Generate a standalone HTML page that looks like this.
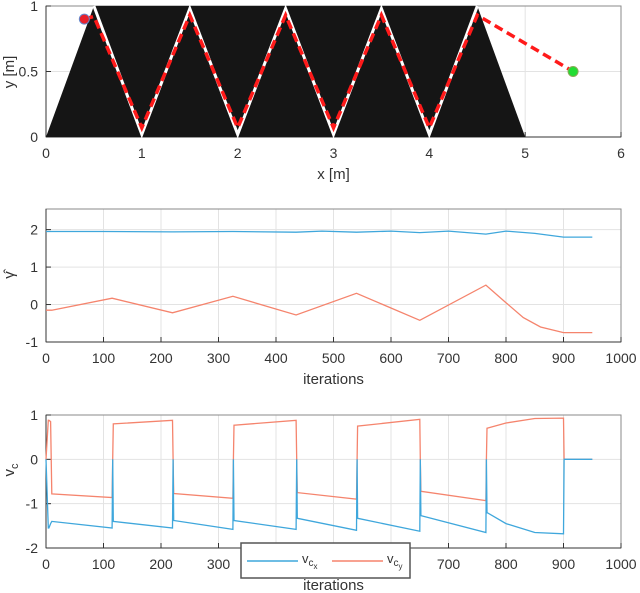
<!DOCTYPE html>
<html><head><meta charset="utf-8">
<style>
html,body{margin:0;padding:0;background:#fff;}
svg{display:block;font-family:"Liberation Sans",sans-serif;}
</style></head>
<body>
<svg id="c" width="640" height="593" viewBox="0 0 640 593" xmlns="http://www.w3.org/2000/svg"></svg>
<script>
// ---- Plot 1 data (track) ----
const obstacleX = [0, 0.5, 4.5, 5];
const obstacleY = [0, 1, 1, 0];
const zigX = [0.5, 1, 1.5, 2, 2.5, 3, 3.5, 4, 4.5];
const zigY = [1, 0.02, 0.98, 0.02, 0.98, 0.02, 0.98, 0.02, 1];
const pathX = [0.4, 0.5, 1, 1.5, 2, 2.5, 3, 3.5, 4, 4.5, 5.5];
const pathY = [0.9, 0.92, 0.07, 0.93, 0.07, 0.93, 0.07, 0.93, 0.07, 0.93, 0.5];
const startPt = [0.4, 0.9];
const goalPt = [5.5, 0.5];
const xTicks1 = [0,1,2,3,4,5,6];
const yTicks1 = [0,0.5,1];
// ---- Plot 2 data (gamma hat) ----
const gIter1 = [0,100,220,325,435,480,540,600,650,700,765,800,850,900,950];
const gVal1 = [1.95,1.95,1.94,1.95,1.93,1.96,1.93,1.96,1.92,1.96,1.88,1.96,1.9,1.8,1.8];
const gIter2 = [0,10,115,220,325,435,540,650,765,800,830,860,900,950];
const gVal2 = [-0.15,-0.15,0.17,-0.22,0.22,-0.28,0.3,-0.42,0.52,0.05,-0.35,-0.6,-0.75,-0.75];
const xTicksIt = [0,100,200,300,400,500,600,700,800,900,1000];
const yTicks2 = [-1,0,1,2];
// ---- Plot 3 data (velocities) ----
const vIter = [0,4,5,8,10,115,116,117,220,221,222,325,326,327,435,436,437,540,541,542,650,651,652,765,766,767,800,850,900,901,950];
const vxVal = [0,-1.55,-1.55,-1.45,-1.4,-1.55,0,-1.4,-1.55,0,-1.38,-1.58,0,-1.38,-1.58,0,-1.33,-1.6,0,-1.33,-1.62,0,-1.27,-1.65,0,-1.2,-1.45,-1.65,-1.68,0,0];
const vyVal = [0,0.88,0.88,0.85,-0.78,-0.86,0,0.8,0.88,0,-0.77,-0.88,0,0.77,0.88,0,-0.75,-0.9,0,0.75,0.9,0,-0.72,-0.93,0,0.7,0.82,0.92,0.93,0,0];
const yTicks3 = [-2,-1,0,1];

const NS="http://www.w3.org/2000/svg";
const svg=document.getElementById('c');
function mk(tag,attrs,parent){const e=document.createElementNS(NS,tag);for(const k in attrs)e.setAttribute(k,attrs[k]);(parent||svg).appendChild(e);return e;}
function lin(d0,d1,r0,r1){return v=>r0+(v-d0)*(r1-r0)/(d1-d0);}
const BLUE="#3fa7dc", ORANGE="#f5846d", AX="#333333", GRID="#e3e3e3";

function axes(name,x0,x1,y0,y1,sx,sy,xt,yt,xlab){
  const g=mk('g',{});
  
  
  xt.forEach(t=>{mk('line',{x1:sx(t),x2:sx(t),y1:y0,y2:y1,stroke:GRID,'stroke-width':1},g);});
  yt.forEach(t=>{mk('line',{x1:x0,x2:x1,y1:sy(t),y2:sy(t),stroke:GRID,'stroke-width':1},g);});
  mk('rect',{x:x0,y:y0,width:x1-x0,height:y1-y0,fill:'none',stroke:'#8a8a8a','stroke-width':1},g);
  mk('line',{x1:x0,x2:x1,y1:y1,y2:y1,stroke:AX,'stroke-width':1},g);
  mk('line',{x1:x0,x2:x0,y1:y0,y2:y1,stroke:AX,'stroke-width':1},g);
  xt.forEach(t=>{
    mk('line',{x1:sx(t),x2:sx(t),y1:y1,y2:y1-5,stroke:AX},g);
    const tx=mk('text',{x:sx(t),y:y1+21,'text-anchor':'middle','font-size':14,fill:AX},g);
    tx.textContent=t;
    
    
  });
  yt.forEach(t=>{
    mk('line',{x1:x0,x2:x0+5,y1:sy(t),y2:sy(t),stroke:AX},g);
    const tx=mk('text',{x:x0-8,y:sy(t)+5,'text-anchor':'end','font-size':14,fill:AX},g);
    tx.textContent=t;
    
    
  });
  const xl=mk('text',{x:(x0+x1)/2,y:y1+42,'text-anchor':'middle','font-size':15,fill:AX},g);
  xl.textContent=xlab;
  
  
  return g;
}
function poly(xs,ys,sx,sy){return xs.map((x,i)=>sx(x).toFixed(1)+','+sy(ys[i]).toFixed(1)).join(' ');}

// Plot 1
{
const X0=46,X1=621,Y0=6,Y1=137;
const sx=lin(0,6,X0,X1), sy=lin(0,1,Y1,Y0);
axes('track',X0,X1,Y0,Y1,sx,sy,xTicks1,yTicks1,'x [m]');
const ob=mk('polygon',{points:poly(obstacleX,obstacleY,sx,sy),fill:'#151515'});


const zz=mk('polyline',{points:poly(zigX,zigY,sx,sy),fill:'none',stroke:'#fff','stroke-width':3});


const rp=mk('polyline',{points:poly(pathX,pathY,sx,sy),fill:'none',stroke:'#ff1a1a','stroke-width':3.5,'stroke-dasharray':'9,5'});


const s=mk('circle',{cx:sx(startPt[0]),cy:sy(startPt[1]),r:5,fill:'#e8202a',stroke:'#6688cc','stroke-width':1});


const gp=mk('circle',{cx:sx(goalPt[0]),cy:sy(goalPt[1]),r:5,fill:'#22dd33',stroke:'#88aa55','stroke-width':1});


const t=mk('text',{x:14,y:72,'text-anchor':'middle','font-size':15,fill:AX,transform:'rotate(-90 14 72)'});
t.textContent='y [m]';


}
// Plot 2
{
const X0=46,X1=621,Y0=209,Y1=342;
const sx=lin(0,1000,X0,X1), sy=lin(-1,2.55,Y1,Y0);
axes('gamma',X0,X1,Y0,Y1,sx,sy,xTicksIt,yTicks2,'iterations');
const a=mk('polyline',{points:poly(gIter1,gVal1,sx,sy),fill:'none',stroke:BLUE,'stroke-width':1.3});


const b=mk('polyline',{points:poly(gIter2,gVal2,sx,sy),fill:'none',stroke:ORANGE,'stroke-width':1.3});


const t=mk('text',{x:14,y:275,'text-anchor':'middle','font-size':15,fill:AX,transform:'rotate(-90 14 275)'});
t.textContent='γ̂';


}
// Plot 3
{
const X0=46,X1=621,Y0=415,Y1=548;
const sx=lin(0,1000,X0,X1), sy=lin(-2,1,Y1,Y0);
axes('velocity',X0,X1,Y0,Y1,sx,sy,xTicksIt,yTicks3,'iterations');
const b=mk('polyline',{points:poly(vIter,vyVal,sx,sy),fill:'none',stroke:ORANGE,'stroke-width':1.3});


const a=mk('polyline',{points:poly(vIter,vxVal,sx,sy),fill:'none',stroke:BLUE,'stroke-width':1.3});


const t=mk('text',{x:14,y:470,'text-anchor':'middle','font-size':15,fill:AX,transform:'rotate(-90 14 470)'});


t.innerHTML='v<tspan font-size="11" dy="4">c</tspan>';
// legend
const lg=mk('g',{});


mk('rect',{x:241,y:543,width:169,height:35,fill:'#fff',stroke:'#555','stroke-width':1.5},lg);
mk('line',{x1:247,x2:298,y1:561,y2:561,stroke:BLUE,'stroke-width':1.5},lg);
const l1=mk('text',{x:302,y:563,'font-size':13,fill:AX},lg);
l1.innerHTML='v<tspan font-size="10" dy="3">c</tspan><tspan font-size="8" dy="3">x</tspan>';


mk('line',{x1:332,x2:383,y1:561,y2:561,stroke:ORANGE,'stroke-width':1.5},lg);
const l2=mk('text',{x:387,y:563,'font-size':13,fill:AX},lg);
l2.innerHTML='v<tspan font-size="10" dy="3">c</tspan><tspan font-size="8" dy="3">y</tspan>';


}
</script>
</body></html>
